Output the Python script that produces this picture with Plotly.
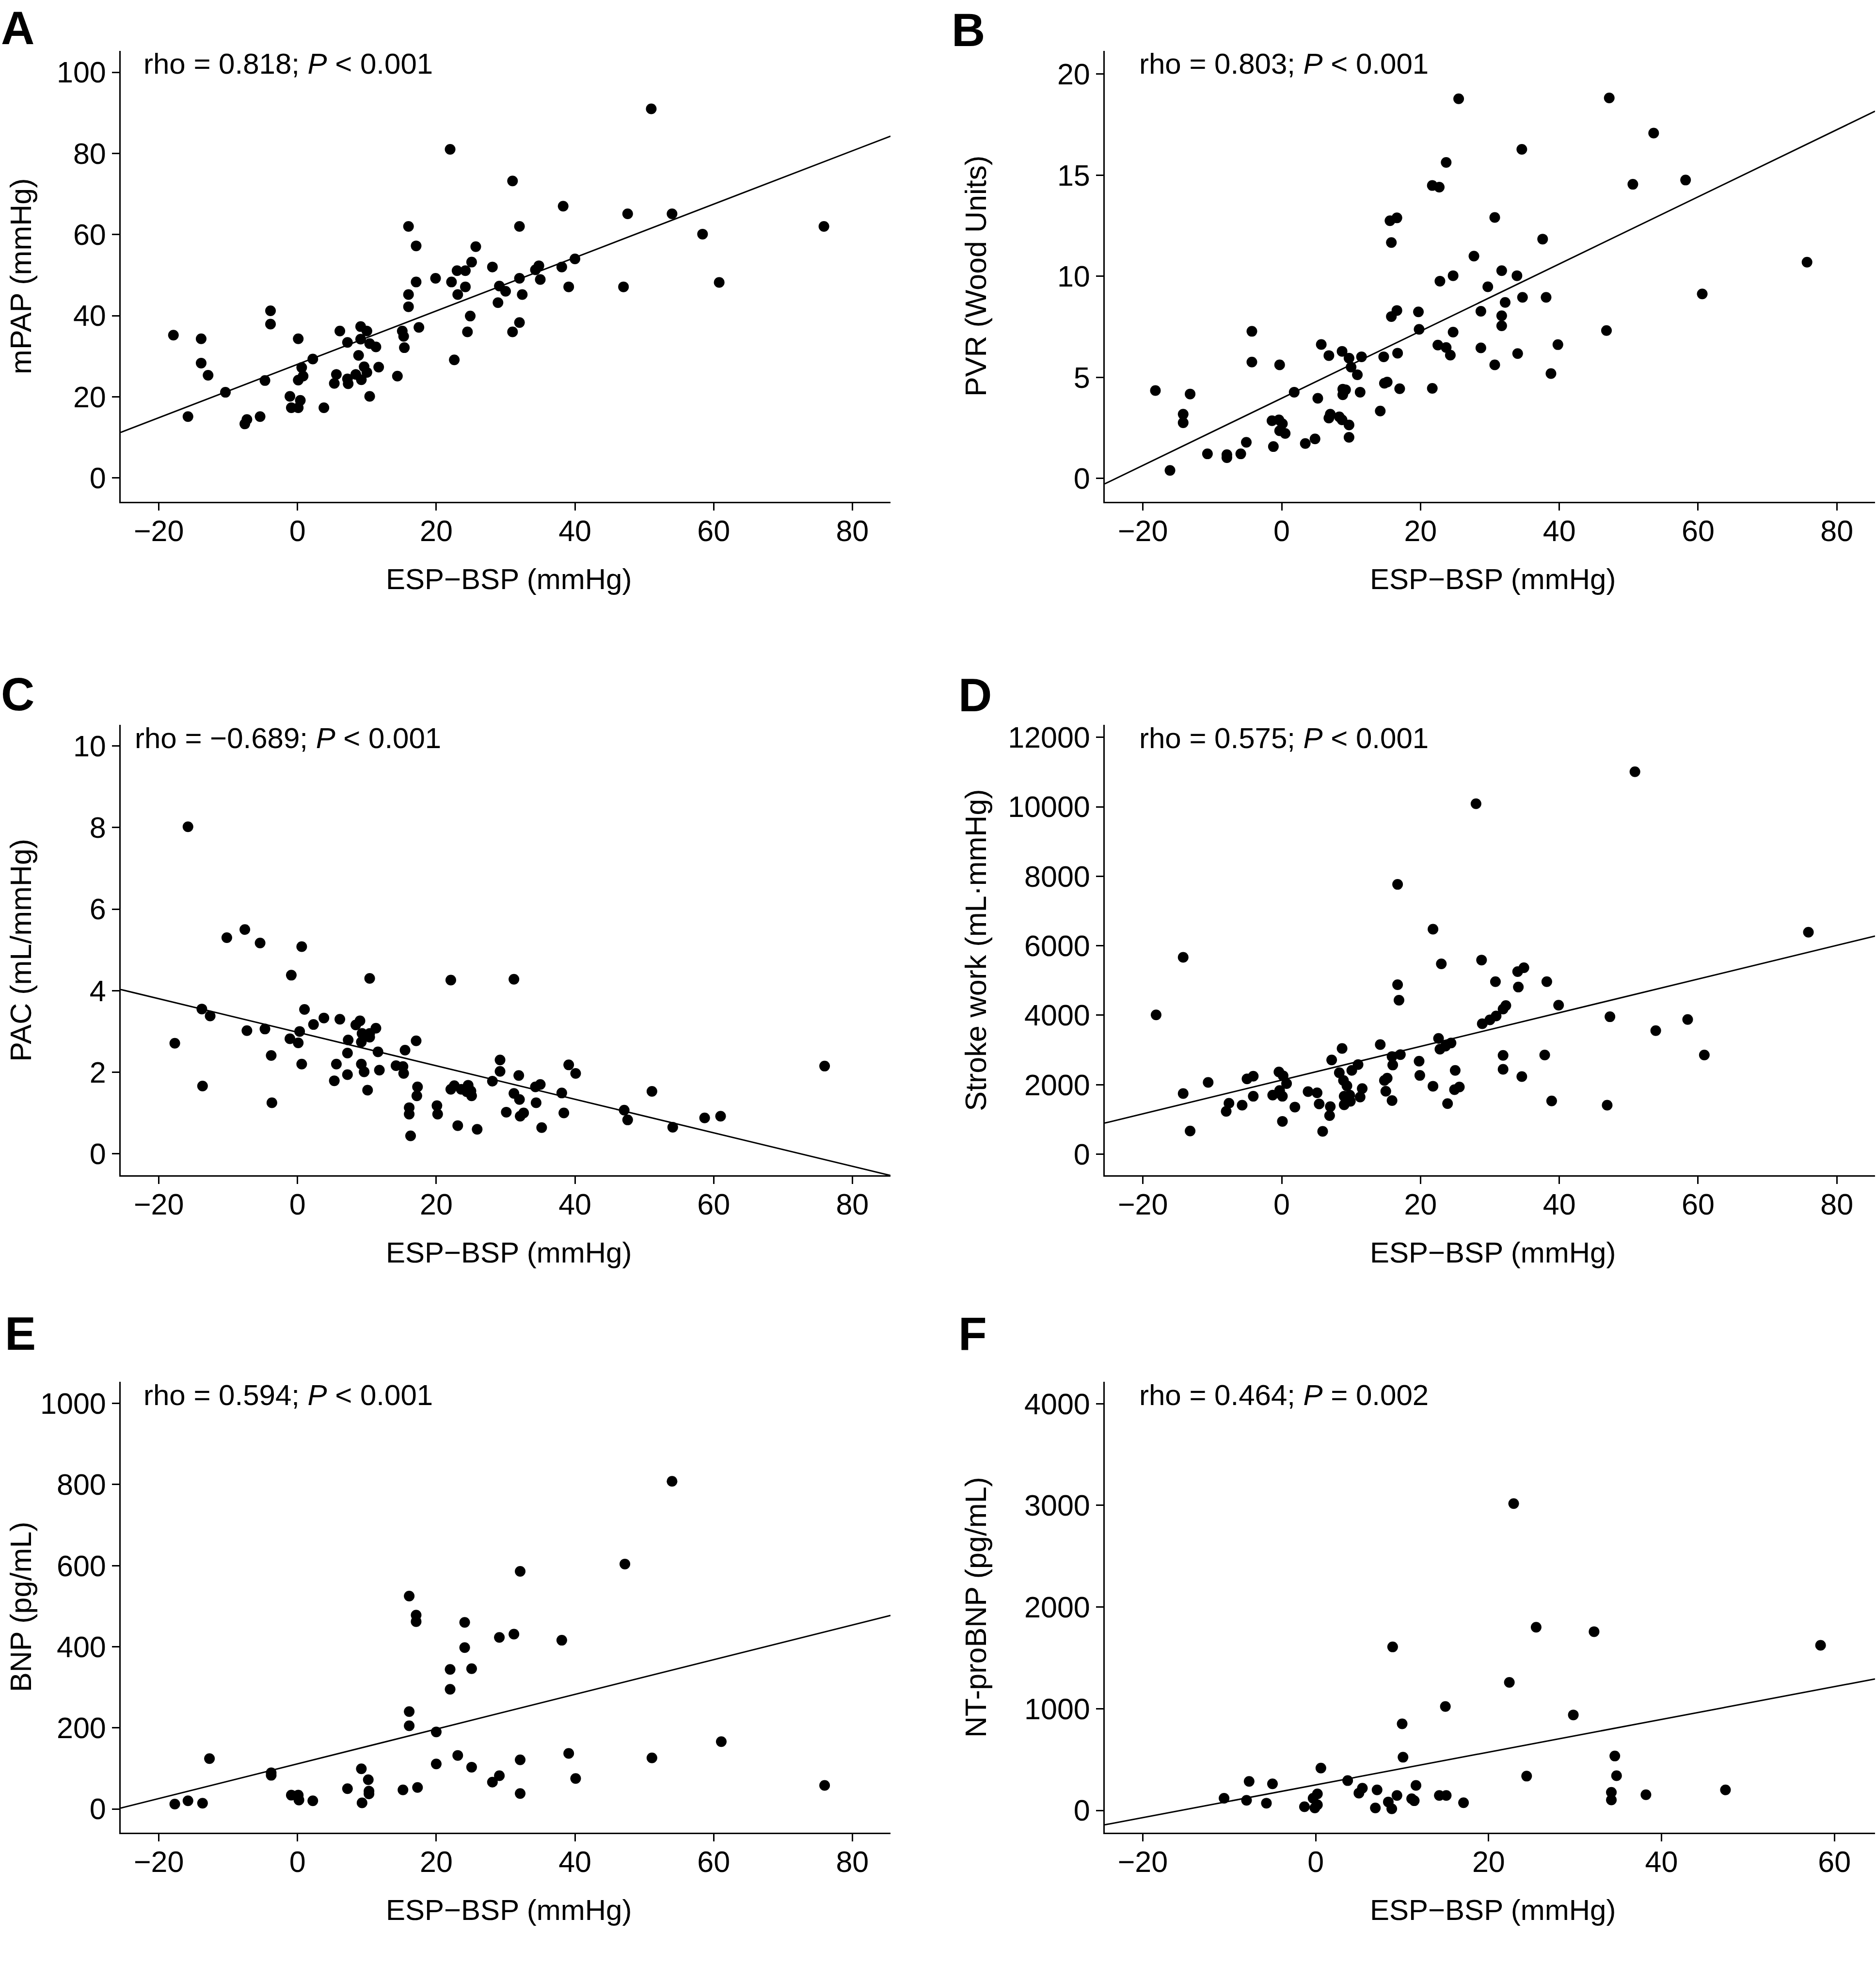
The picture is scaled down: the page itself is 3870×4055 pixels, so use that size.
import plotly.graph_objects as go

# ---- data ----
# A: mPAP vs ESP-BSP
a_x = [-17.9, -13.9, -13.9, -12.9, -15.8, -10.4, -7.6, -7.3, -5.4, -4.7, -3.9, -3.9, -1.1, -0.9, 0.1,
       0.1, 0.4, 0.1, 0.6, 0.8, 2.2, 3.8, 5.3, 5.6, 6.1, 7.2, 7.2, 7.3, 8.4, 8.8, 9.1, 9.1, 9.2, 9.6,
       10.0, 10.0, 10.4, 10.4, 11.3, 11.7, 14.4, 15.1, 15.3, 15.4, 16.0, 16.0, 16.0, 17.1, 17.1, 17.5,
       19.9, 22.0, 22.2, 22.6, 23.0, 23.1, 24.2, 24.2, 24.5, 24.9, 25.1, 25.7, 28.1, 28.9, 29.1, 30.0,
       31.0, 31.0, 32.0, 32.0, 32.0, 32.4, 34.3, 34.8, 35.0, 38.1, 38.3, 39.1, 40.0, 47.0, 47.6, 51.0,
       54.0, 58.4, 60.8, 75.9]
a_y = [35.2, 34.3, 28.3, 25.3, 15.1, 21.1, 13.3, 14.4, 15.1, 24.0, 41.2, 37.9, 20.1, 17.3, 34.3,
       17.3, 19.1, 24.1, 27.2, 25.1, 29.3, 17.3, 23.3, 25.5, 36.2, 33.4, 24.4, 23.2, 25.5, 30.2, 37.3,
       34.2, 24.2, 27.4, 36.2, 26.0, 20.1, 33.1, 32.3, 27.3, 25.1, 36.2, 34.9, 32.1, 62.0, 45.2, 42.2,
       57.2, 48.3, 37.1, 49.2, 81.0, 48.3, 29.1, 51.1, 45.2, 51.1, 47.1, 36.0, 39.9, 53.2, 57.0, 52.0,
       43.2, 47.3, 46.0, 73.2, 36.0, 62.0, 49.2, 38.3, 45.2, 51.3, 52.3, 48.9, 52.0, 67.0, 47.1, 54.0,
       47.1, 65.1, 91.0, 65.1, 60.1, 48.2, 62.0]

# B: PVR vs ESP-BSP
b_x = [-18.2, -16.1, -14.2, -14.2, -13.2, -10.7, -7.9, -7.9, -5.9, -5.1, -4.3, -4.3, -1.4, -1.2, -0.4,
       -0.3, -0.3, 0.1, 0.5, 1.8, 3.4, 4.8, 5.2, 5.7, 6.8, 6.8, 7.0, 8.3, 8.7, 8.8, 8.8, 9.2, 8.7, 9.7,
       9.7, 9.7, 10.0, 10.9, 11.3, 11.5, 14.2, 14.7, 14.8, 15.2, 15.6, 15.8, 15.8, 16.6, 16.6, 16.7,
       17.0, 19.7, 19.8, 21.7, 21.7, 22.5, 22.7, 22.8, 23.7, 23.7, 24.3, 24.7, 24.7, 25.5, 27.7, 28.7,
       28.7, 29.7, 30.7, 30.7, 31.7, 31.7, 31.7, 32.2, 33.9, 34.0, 34.6, 34.7, 37.6, 38.1, 38.8, 39.8,
       46.8, 47.2, 50.6, 53.6, 58.2, 60.6, 75.7]
b_y = [4.35, 0.40, 3.18, 2.76, 4.18, 1.22, 1.18, 1.03, 1.22, 1.79, 7.28, 5.76, 2.86, 1.58, 2.90,
       5.62, 2.36, 2.71, 2.23, 4.27, 1.73, 1.96, 3.97, 6.63, 6.08, 2.99, 3.18, 3.05, 6.29, 4.42, 4.14,
       4.39, 2.90, 5.95, 2.65, 2.04, 5.51, 5.13, 4.27, 6.02, 3.34, 6.02, 4.71, 4.77, 12.75, 11.67, 8.01,
       12.89, 8.31, 6.20, 4.44, 8.24, 7.38, 14.49, 4.46, 6.60, 14.41, 9.76, 15.63, 6.48, 6.10, 7.24,
       10.03, 18.78, 11.00, 8.27, 6.46, 9.48, 12.91, 5.62, 10.28, 8.05, 7.55, 8.71, 10.03, 6.18, 16.28,
       8.96, 11.84, 8.96, 5.19, 6.62, 7.32, 18.82, 14.55, 17.08, 14.76, 9.13, 10.70]

# C: PAC vs ESP-BSP
c_x = [-17.7, -15.8, -13.8, -13.7, -12.6, -10.2, -7.6, -7.3, -5.4, -4.7, -3.8, -3.7, -0.9, -1.1, 0.1,
       0.3, 0.6, 0.6, 1.0, 2.3, 3.8, 5.6, 5.3, 6.1, 7.2, 7.2, 7.3, 8.4, 9.0, 9.2, 9.2, 9.3, 9.6, 10.1,
       10.4, 10.4, 10.4, 11.3, 11.6, 11.8, 14.2, 15.2, 15.3, 15.5, 16.1, 16.1, 16.3, 17.1, 17.3, 17.2,
       20.1, 20.2, 22.1, 22.1, 22.6, 23.1, 23.6, 24.4, 24.6, 25.0, 25.1, 25.9, 28.1, 29.2, 29.2, 30.1,
       31.2, 31.2, 31.9, 32.0, 32.1, 32.6, 34.3, 34.4, 35.0, 35.2, 38.1, 38.4, 39.1, 40.1, 47.1, 47.6,
       51.1, 54.1, 58.7, 61.0, 76.0]
c_y = [2.71, 8.02, 3.55, 1.66, 3.38, 5.30, 5.50, 3.02, 5.17, 3.06, 2.41, 1.25, 4.38, 2.82, 2.72,
       3.00, 5.08, 2.20, 3.54, 3.17, 3.33, 2.20, 1.79, 3.30, 2.47, 1.94, 2.79, 3.16, 3.26, 2.20, 2.74,
       2.95, 2.01, 1.56, 4.30, 2.95, 2.86, 3.08, 2.50, 2.05, 2.16, 2.14, 1.97, 2.54, 1.13, 0.97, 0.44,
       2.77, 1.64, 1.42, 1.18, 0.97, 4.26, 1.58, 1.67, 0.69, 1.58, 1.52, 1.68, 1.54, 1.42, 0.60, 1.78,
       2.30, 2.02, 1.02, 1.48, 4.28, 1.92, 1.33, 0.92, 1.00, 1.64, 1.25, 1.70, 0.64, 1.49, 1.00, 2.18,
       1.97, 1.07, 0.83, 1.53, 0.65, 0.88, 0.92, 2.15]

# D: stroke work vs ESP-BSP
d_x = [-18.1, -14.2, -14.2, -13.2, -10.6, -8.0, -7.6, -5.7, -5.0, -4.1, -4.1, -1.3, -0.4, -0.3, 0.1,
       0.1, 0.2, 0.7, 1.9, 3.8, 5.1, 5.4, 5.9, 6.9, 7.0, 7.2, 8.3, 8.7, 8.9, 9.0, 9.0, 9.4, 9.8, 9.9,
       10.1, 11.0, 11.3, 11.6, 14.2, 14.8, 15.0, 15.2, 15.9, 15.9, 16.0, 16.7, 16.9, 16.7, 17.1, 19.8,
       19.9, 21.8, 21.8, 22.6, 22.8, 23.0, 23.6, 23.9, 24.4, 25.0, 24.9, 25.6, 28.0, 28.8, 28.9, 30.0,
       30.8, 30.9, 31.9, 31.9, 31.9, 32.3, 34.0, 34.1, 34.9, 34.6, 37.9, 38.2, 38.9, 39.9, 46.9, 47.3,
       50.9, 53.9, 58.5, 60.9, 75.9]
d_y = [4011, 5667, 1744, 667, 2067, 1233, 1467, 1411, 2167, 2244, 1667, 1700, 2367, 1833, 1667,
       944, 2256, 2033, 1356, 1800, 1767, 1444, 656, 1111, 1367, 2711, 2344, 3044, 2122, 1667, 1422,
       1967, 1700, 1522, 2411, 2578, 1644, 1889, 3156, 2122, 1811, 2189, 2811, 1544, 2567, 4878, 4433,
       7767, 2867, 2678, 2267, 6478, 1956, 3333, 3022, 5478, 3111, 1456, 3200, 2411, 1856, 1933, 10089,
       5589, 3756, 3867, 4967, 3978, 4178, 2844, 2444, 4278, 5256, 4811, 5367, 2233, 2856, 4967, 1533,
       4289, 1411, 3956, 11011, 3556, 3878, 2856, 6389]

# E: BNP vs ESP-BSP
e_x = [-17.7, -15.8, -13.7, -12.7, -3.8, -3.8, -0.9, 0.1, 0.2, 2.2, 7.2, 9.2, 9.3, 10.2, 10.3, 10.3,
       15.2, 16.1, 16.1, 16.1, 17.1, 17.1, 17.3, 20.0, 20.0, 22.0, 22.0, 23.1, 24.1, 24.1, 25.1, 25.1,
       28.1, 29.1, 29.1, 31.2, 32.1, 32.1, 32.1, 38.1, 39.1, 40.1, 47.2, 51.1, 54.0, 61.1, 76.0]
e_y = [12, 20, 14, 124, 89, 83, 34, 34, 22, 20, 50, 99, 15, 72, 44, 37,
       47, 525, 240, 205, 478, 462, 53, 190, 111, 344, 295, 132, 460, 398, 346, 103,
       66, 423, 82, 431, 586, 121, 38, 416, 137, 75, 604, 126, 808, 166, 58]

# F: NT-proBNP vs ESP-BSP
f_x = [-10.6, -8.0, -7.7, -5.7, -5.0, -1.3, -0.3, -0.1, 0.2, 0.2, 0.6, 3.7, 5.0, 5.4, 6.9, 7.1, 8.4,
       8.8, 8.9, 9.4, 10.0, 10.1, 11.1, 11.4, 11.6, 14.3, 15.0, 15.1, 17.1, 22.4, 22.9, 24.4, 25.5,
       29.8, 32.2, 34.2, 34.2, 34.6, 34.8, 38.2, 47.4, 58.4]
f_y = [119, 99, 285, 71, 261, 36, 119, 24, 55, 162, 416, 293, 170, 218, 24, 202, 83,
       16, 1608, 147, 851, 523, 115, 95, 246, 147, 1022, 147, 75, 1259, 3018, 337, 1802,
       939, 1758, 178, 103, 535, 341, 154, 202, 1624]

# fitted lines: intercept, slope
fit_a = [28.0, 0.658]
fit_b = [3.97, 0.166]
fit_c = [2.98, -0.0411]
fit_d = [2132, 48.5]
fit_e = [111.3, 4.28]
fit_f = [251, 16.1]

stats = ["rho = 0.818; <i>P</i> < 0.001", "rho = 0.803; <i>P</i> < 0.001",
         "rho = \u22120.689; <i>P</i> < 0.001", "rho = 0.575; <i>P</i> < 0.001",
         "rho = 0.594; <i>P</i> < 0.001", "rho = 0.464; <i>P</i> = 0.002"]
ytitles = ["mPAP (mmHg)", "PVR (Wood Units)", "PAC (mL/mmHg)", "Stroke work (mL\u00b7mmHg)",
           "BNP (pg/mL)", "NT-proBNP (pg/mL)"]
letters = ["A", "B", "C", "D", "E", "F"]

W, H = 3870, 4055
FONT = "Liberation Sans, Arial, sans-serif"

cols = [(249, 1837), (2279, 3868)]
rows = [(97, 1029), (1490, 2421), (2848, 3779)]
letter_pos = [(0, 50), (1961, 54), (0, 1426), (1975, 1428), (8, 2748), (1975, 2748)]

panels = [
    (a_x, a_y, fit_a, [-25.5, 85.5], [-5.9, 105.3], [0, 20, 40, 60, 80, 100], [-20, 0, 20, 40, 60, 80]),
    (b_x, b_y, fit_b, [-25.5, 85.5], [-1.15, 21.15], [0, 5, 10, 15, 20], [-20, 0, 20, 40, 60, 80]),
    (c_x, c_y, fit_c, [-25.5, 85.5], [-0.53, 10.52], [0, 2, 4, 6, 8, 10], [-20, 0, 20, 40, 60, 80]),
    (d_x, d_y, fit_d, [-25.5, 85.5], [-610, 12360], [0, 2000, 4000, 6000, 8000, 10000, 12000], [-20, 0, 20, 40, 60, 80]),
    (e_x, e_y, fit_e, [-25.5, 85.5], [-58, 1053], [0, 200, 400, 600, 800, 1000], [-20, 0, 20, 40, 60, 80]),
    (f_x, f_y, fit_f, [-24.4, 64.7], [-217, 4214], [0, 1000, 2000, 3000, 4000], [-20, 0, 20, 40, 60]),
]

fig = go.Figure()
annos = []
for i, (px, py, fit, xr, yr, ytv, xtv) in enumerate(panels):
    c = cols[i % 2]
    r = rows[i // 2]
    n = "" if i == 0 else str(i + 1)
    xa, ya = "x" + n, "y" + n
    fig.add_trace(go.Scatter(x=px, y=py, mode="markers", xaxis=xa, yaxis=ya,
                             marker=dict(size=22, color="black"), showlegend=False))
    lx = [xr[0], xr[1]]
    ly = [fit[0] + fit[1] * v for v in lx]
    fig.add_trace(go.Scatter(x=lx, y=ly, mode="lines", xaxis=xa, yaxis=ya,
                             line=dict(color="black", width=3), showlegend=False))
    axis = dict(showline=True, linecolor="black", linewidth=3, ticks="outside", ticklen=15,
                tickwidth=3, tickcolor="black", showgrid=False, zeroline=False,
                tickfont=dict(family=FONT, size=61, color="black"))
    fig.layout["xaxis" + n] = dict(axis, domain=[c[0] / W, c[1] / W], range=xr, tickvals=xtv,
                                   anchor=ya, ticklabelstandoff=-10)
    fig.layout["yaxis" + n] = dict(axis, domain=[1 - r[1] / H, 1 - r[0] / H], range=yr, tickvals=ytv,
                                   tickformat="d", anchor=xa)
    # stats text
    annos.append(dict(text=stats[i], x=(594 if i % 2 == 0 else 2648) / W, y=1 - (r[0] + 27) / H,
                      xref="paper", yref="paper", showarrow=False, xanchor="center", yanchor="middle",
                      font=dict(family=FONT, size=60, color="black")))
    # x title
    annos.append(dict(text="ESP\u2212BSP (mmHg)", x=((c[0] + c[1]) / 2 + 6) / W, y=1 - (r[1] + 160) / H,
                      xref="paper", yref="paper", showarrow=False, xanchor="center", yanchor="middle",
                      font=dict(family=FONT, size=60, color="black")))
    # y title
    annos.append(dict(text=ytitles[i], x=(43 if i % 2 == 0 else 2013) / W, y=1 - (r[0] + r[1]) / 2 / H,
                      xref="paper", yref="paper", showarrow=False, textangle=-90,
                      xanchor="center", yanchor="middle",
                      font=dict(family=FONT, size=61, color="black")))
    # panel letter
    lp = letter_pos[i]
    annos.append(dict(text="<b>" + letters[i] + "</b>", x=lp[0] / W, y=1 - lp[1] / H,
                      xref="paper", yref="paper", showarrow=False,
                      xanchor="left", yanchor="middle",
                      font=dict(family=FONT, size=96, color="black")))

fig.update_layout(width=W, height=H, margin=dict(l=0, r=0, t=0, b=0),
                  paper_bgcolor="white", plot_bgcolor="white", annotations=annos,
                  font=dict(family=FONT, color="black"))

fig.write_html("out.html", config={"displayModeBar": False},
               post_script="document.body.style.margin='0';")
